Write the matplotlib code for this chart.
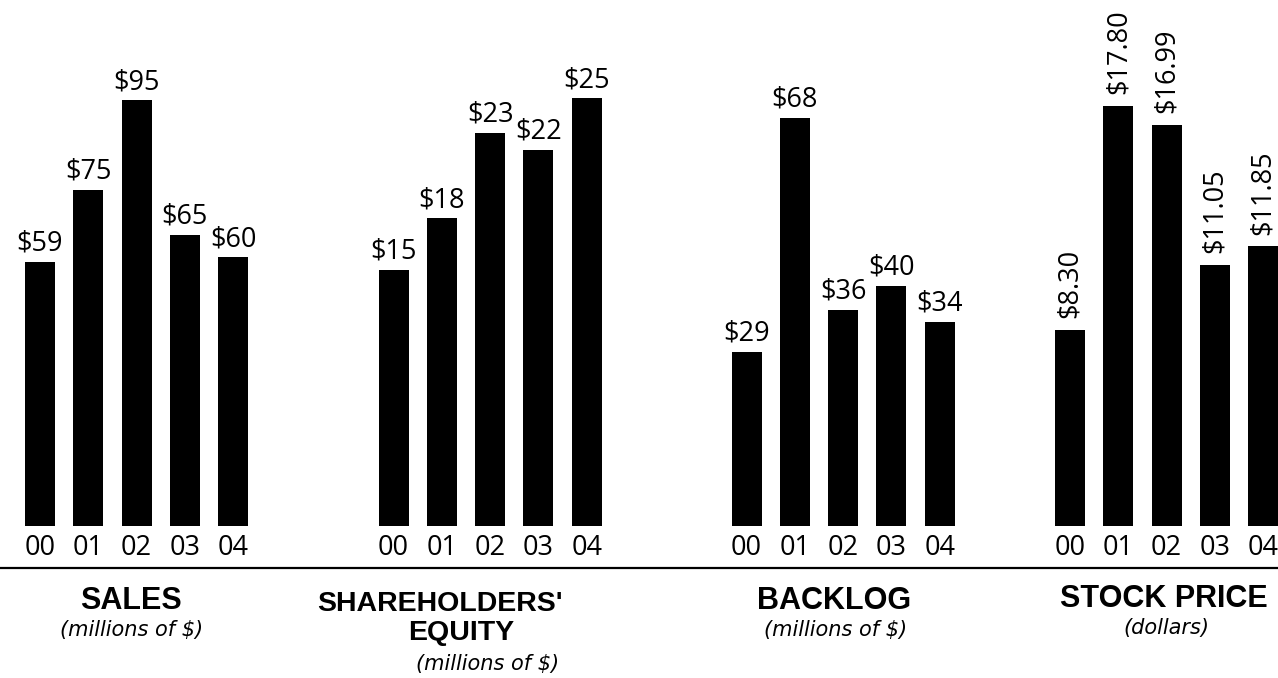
import matplotlib
matplotlib.use("Agg")
import matplotlib.pyplot as plt
from matplotlib.lines import Line2D

# ---- data ----
years = ["00", "01", "02", "03", "04"]
sales = [59, 75, 95, 65, 60]
equity = [15, 18, 23, 22, 25]
backlog = [29, 68, 36, 40, 34]
stock = [8.30, 17.80, 16.99, 11.05, 11.85]

titles = ["SALES", "SHAREHOLDERS'\nEQUITY", "BACKLOG", "STOCK PRICE"]
subtitles = ["(millions of $)", "(millions of $)", "(millions of $)", "(dollars)"]

W, H = 1278, 678
fig = plt.figure(figsize=(W / 100, H / 100), dpi=100)
fig.patch.set_facecolor("white")

NUM_FONT = "Open Sans"
TITLE_FONT = "Liberation Sans"

spacing = 48.3          # px between bar centres
base_y = 526            # px (from top) of bar baseline
first_centres = [40, 393.5, 746.5, 1070]
px_per_unit = [4.48, 17.1, 6.0, 23.6]
series = [sales, equity, backlog, stock]
fmts = ["${:.0f}", "${:.0f}", "${:.0f}", "${:.2f}"]

xlo, xhi = -0.35, 4.35
for k in range(4):
    left_px = first_centres[k] + xlo * spacing
    width_px = (xhi - xlo) * spacing
    ax = fig.add_axes([left_px / W, (H - base_y) / H, width_px / W, base_y / H])
    ax.set_xlim(xlo, xhi)
    ax.set_ylim(0, base_y / px_per_unit[k])
    vals = series[k]
    ax.bar(range(5), vals, width=30 / spacing, color="black")
    for s in ax.spines.values():
        s.set_visible(False)
    ax.set_yticks([])
    ax.set_xticks(range(5), labels=years)
    ax.tick_params(axis="x", length=0, pad=6, labelsize=19.5)
    for t in ax.get_xticklabels():
        t.set_fontfamily(NUM_FONT)
    ax.patch.set_alpha(0)
    for i, v in enumerate(vals):
        label = fmts[k].format(v)
        if k == 3:
            ax.annotate(label, (i, v), xytext=(0, 8.5), textcoords="offset points",
                        ha="center", va="bottom", rotation=90,
                        fontsize=19.5, family=NUM_FONT, clip_on=False)
        else:
            ax.annotate(label, (i, v), xytext=(0, 8), textcoords="offset points",
                        ha="center", va="baseline",
                        fontsize=19.5, family=NUM_FONT, clip_on=False)

# separator line
ly = (H - 568) / H
fig.add_artist(Line2D([0, 1], [ly, ly], transform=fig.transFigure,
                      color="black", linewidth=1.6))

def ftext(x, y, s, **kw):
    fig.text(x / W, (H - y) / H, s, **kw)

title_kw = dict(ha="center", va="baseline", fontsize=22, fontweight="bold",
                family=TITLE_FONT)
sub_kw = dict(ha="center", va="baseline", fontsize=15, style="italic",
              family="DejaVu Sans")

# titles (x centre, baseline y)
ftext(131, 609, titles[0], **title_kw)
ftext(132, 636, subtitles[0], **sub_kw)

t1, t2 = titles[1].split("\n")
eq_kw = dict(title_kw, fontsize=20.5)
ftext(440, 611, t1, **eq_kw)
ftext(461, 640, t2, **eq_kw)
ftext(488, 670, subtitles[1], **sub_kw)

ftext(834, 609, titles[2], **title_kw)
ftext(836, 636, subtitles[2], **sub_kw)

ftext(1164, 607, titles[3], **title_kw)
ftext(1166, 634, subtitles[3], **sub_kw)

fig.savefig("out.png", dpi=100, facecolor="white")
